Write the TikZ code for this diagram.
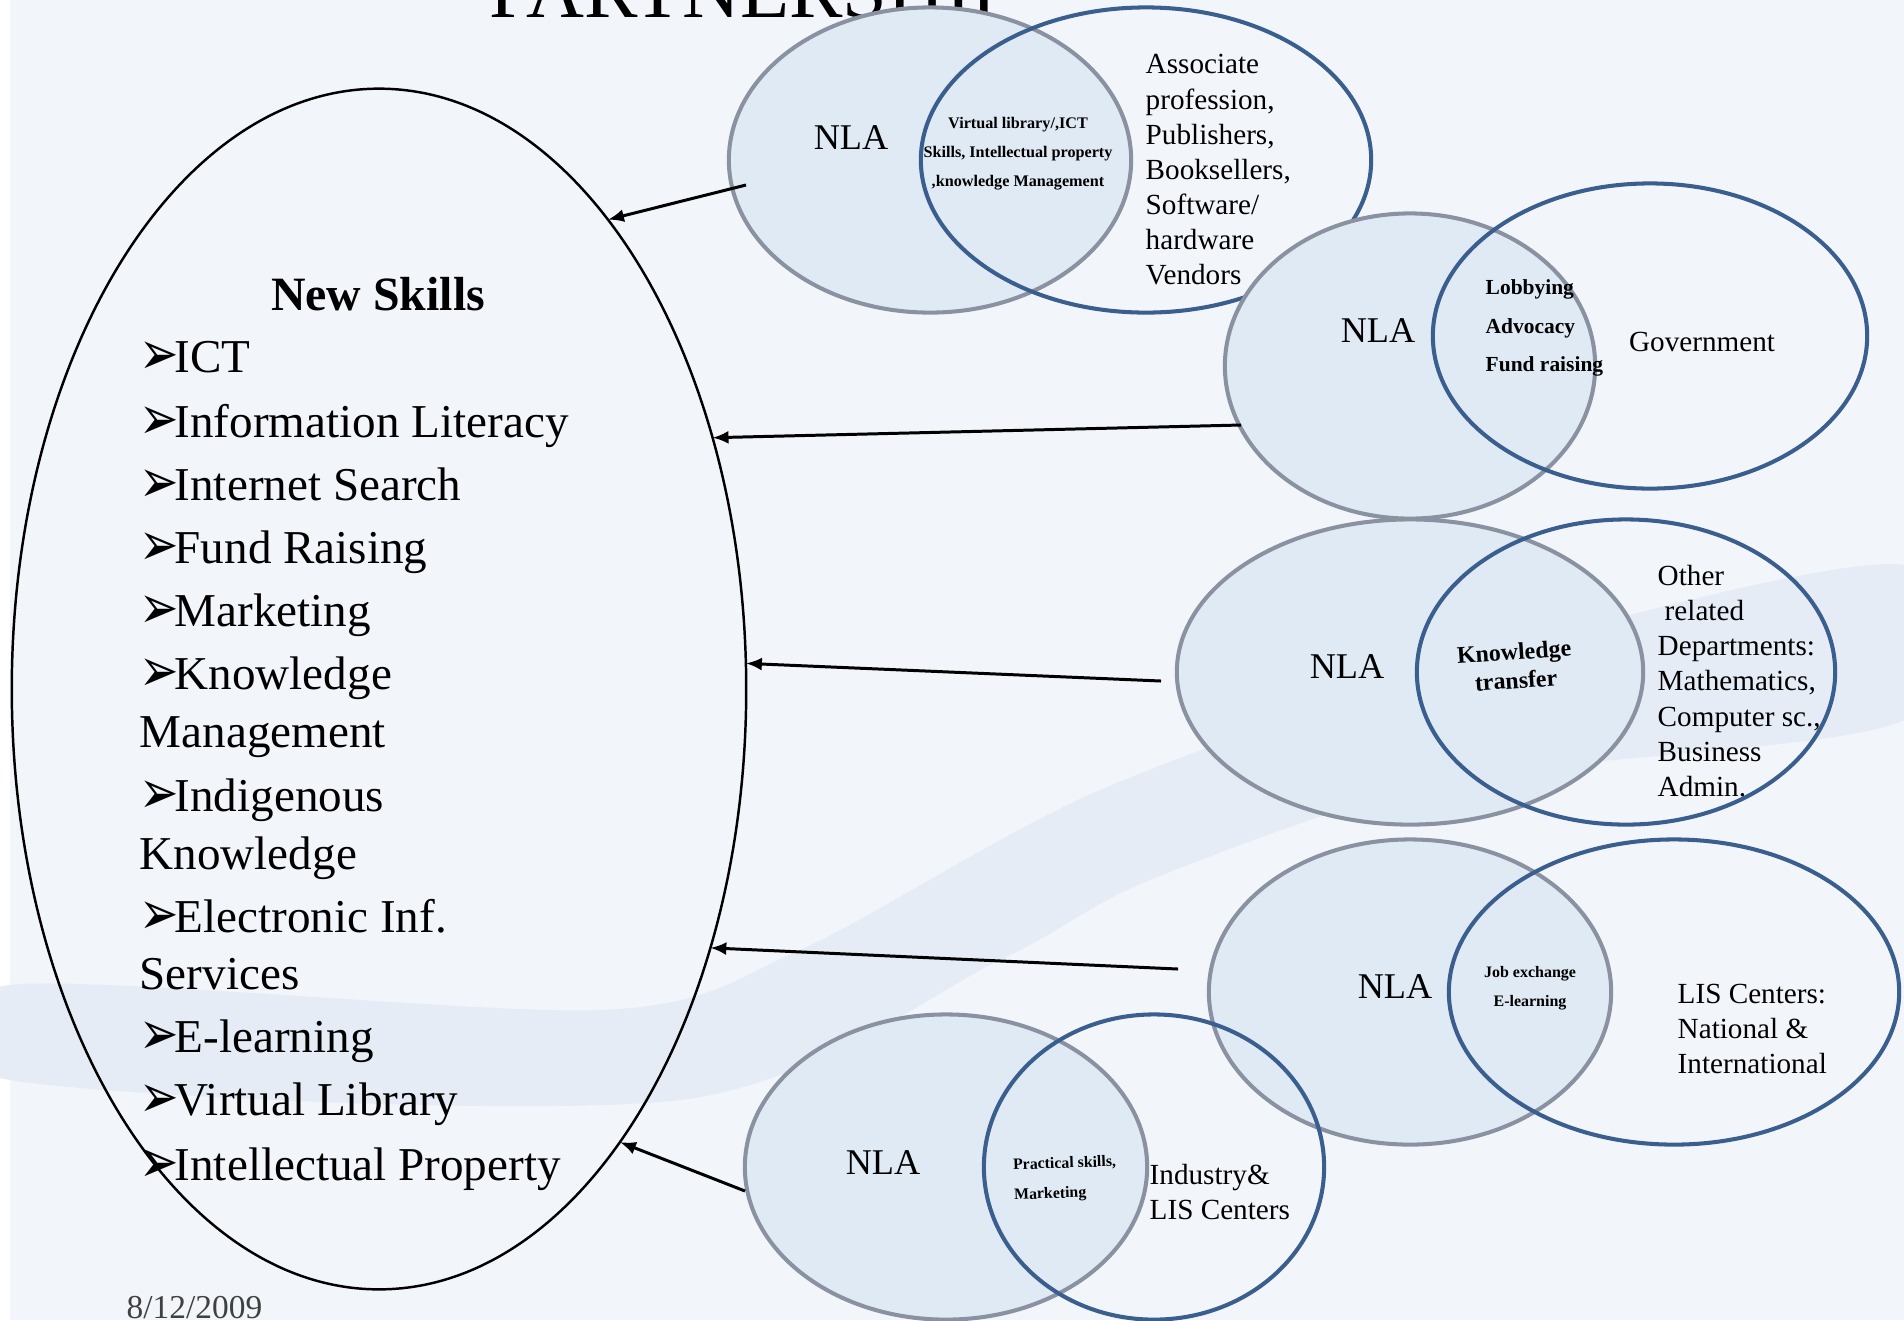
\documentclass[tikz,border=0pt]{standalone}
\usepackage{fontspec}
\usepackage{graphicx}
\setmainfont{Liberation Serif}
\newfontfamily\dingfont{DejaVu Sans}
\usetikzlibrary{shapes.geometric,arrows.meta}
\newcommand\skb{\makebox[0.35cm][l]{\raisebox{-0.06em}{\dingfont\scalebox{1}[1.3]{➢}}}}

\begin{document}
\begin{tikzpicture}[x=0.01cm,y=-0.01cm,
  nlacirc/.style={ellipse,draw=nlagray,fill=nlafill,line width=1.15pt,inner sep=0pt},
  partcirc/.style={ellipse,draw=partblue,line width=1.15pt,inner sep=0pt},
  nlatxt/.style={inner sep=0pt,font=\fontsize{10.3}{12}\selectfont},
  parttxt/.style={anchor=west,align=left,inner sep=0pt,font=\fontsize{8.3}{10}\selectfont},
  linktxt/.style={align=center,inner sep=0pt},
  skillln/.style={anchor=base west,inner sep=0pt,font=\fontsize{13.4}{16}\selectfont},
  skillarrow/.style={-{Latex[length=0.16cm,width=0.13cm]},line width=0.85pt}]
\definecolor{bgblue}{HTML}{F2F6FB}
\definecolor{wmark}{HTML}{E5ECF6}
\definecolor{nlafill}{HTML}{E0EAF5}
\definecolor{nlagray}{HTML}{8A92A2}
\definecolor{partblue}{HTML}{3A5E8D}
\definecolor{dategray}{HTML}{404040}
\useasboundingbox (0,0) rectangle (1904,1320);
\fill[white] (0,0) rectangle (1904,1320);
\fill[bgblue] (10,0) rectangle (1904,1320);
% faint watermark band
\fill[wmark] plot[smooth cycle] coordinates {(10,985) (600,1010) (800,950) (1100,790) (1500,650) (1904,565)
  (1904,720) (1450,780) (1150,880) (1000,960) (680,1100) (10,1080)};
\node at (753,17) [anchor=base,font=\fontsize{22.8}{26}\selectfont] (title) {PARTNERSHIP};

% new skills
\node[ellipse,draw,line width=0.7pt,minimum width=7.34cm,minimum height=12cm,inner sep=0pt,outer sep=0pt] (skills) at (379,689) {};
\node[anchor=base,inner sep=0pt,font=\bfseries\fontsize{13.6}{16}\selectfont] (skillhead) at (378,310) {New Skills};
\foreach \y/\t [count=\k] in {372/\skb ICT, 437/\skb Information Literacy, 500/\skb Internet Search,
  563/\skb Fund Raising, 626/\skb Marketing, 689/\skb Knowledge, 747/Management, 811/\skb Indigenous,
  869/Knowledge, 932/\skb Electronic Inf., 989/Services, 1052/\skb E-learning, 1115/\skb Virtual Library,
  1180/\skb Intellectual Property}
  {\node[skillln] (skill\k) at (139,\y) {\t};}

% venn pairs
\foreach \k/\gx/\gy/\grx/\bx/\by/\brx in {1/930/160/201/1146/160/225, 2/1410/366/185/1650/336/217,
  3/1410/672/233/1626/672/209, 4/1410/992/201/1674/992/225, 5/946/1167/201/1154/1167/170}
{ \node[nlacirc,minimum width=\grx*0.02cm,minimum height=3.05cm] (nla\k) at (\gx,\gy) {};
  \node[partcirc,minimum width=\brx*0.02cm,minimum height=3.05cm] (part\k) at (\bx,\by) {};}

\foreach \k/\x/\y in {1/851/138, 2/1378/331, 3/1347/667, 4/1395/987, 5/883/1163}
  {\node[nlatxt] (nlalbl\k) at (\x,\y) {NLA};}

\node[linktxt,font=\bfseries\fontsize{4.6}{8.25}\selectfont] (link1) at (1018,154)
  {Virtual library/,ICT\\Skills, Intellectual property\\,knowledge Management};
\node[linktxt,anchor=west,align=left,font=\bfseries\fontsize{6.1}{11}\selectfont] (link2) at (1485,328)
  {Lobbying\\Advocacy\\Fund raising};
\node[linktxt,rotate=4,font=\bfseries\fontsize{6.8}{8.1}\selectfont] (link3) at (1515,666)
  {Knowledge\\transfer};
\node[linktxt,font=\bfseries\fontsize{4.55}{8.25}\selectfont] (link4) at (1530,988)
  {Job exchange\\E-learning};
\node[linktxt,anchor=west,align=left,rotate=2,font=\bfseries\fontsize{4.5}{8.5}\selectfont] (link5) at (1013,1181)
  {Practical skills,\\Marketing};

\node[parttxt] (partner1) at (1145,170)
  {Associate\\profession,\\Publishers,\\Booksellers,\\Software/\\hardware\\Vendors};
\node[inner sep=0pt,font=\fontsize{8.3}{10}\selectfont] (partner2) at (1702,342) {Government};
\node[parttxt] (partner3) at (1657,681)
  {Other\\\hspace*{0.07cm}related\\Departments:\\Mathematics,\\Computer sc.,\\Business\\Admin.};
\node[parttxt] (partner4) at (1677,1029) {LIS Centers:\\National \&\\International};
\node[parttxt] (partner5) at (1149,1192) {Industry\&\\LIS Centers};

% links to the skills
\coordinate (src1) at (746,185);
\coordinate (src2) at (1241,425);
\coordinate (src3) at (1161,681);
\coordinate (src4) at (1178,969);
\coordinate (src5) at (745,1191);
\draw[skillarrow] (src1) -- (skills.64);
\draw[skillarrow] (src2) -- (skills.37);
\draw[skillarrow] (src3) -- (skills.4);
\draw[skillarrow] (src4) -- (skills.322);
\draw[skillarrow] (src5) -- (skills.298);

\node[anchor=base west,inner sep=0pt,text=dategray,font=\fontsize{9.5}{11}\selectfont] (date) at (126,1318) {8/12/2009};
\end{tikzpicture}
\end{document}
